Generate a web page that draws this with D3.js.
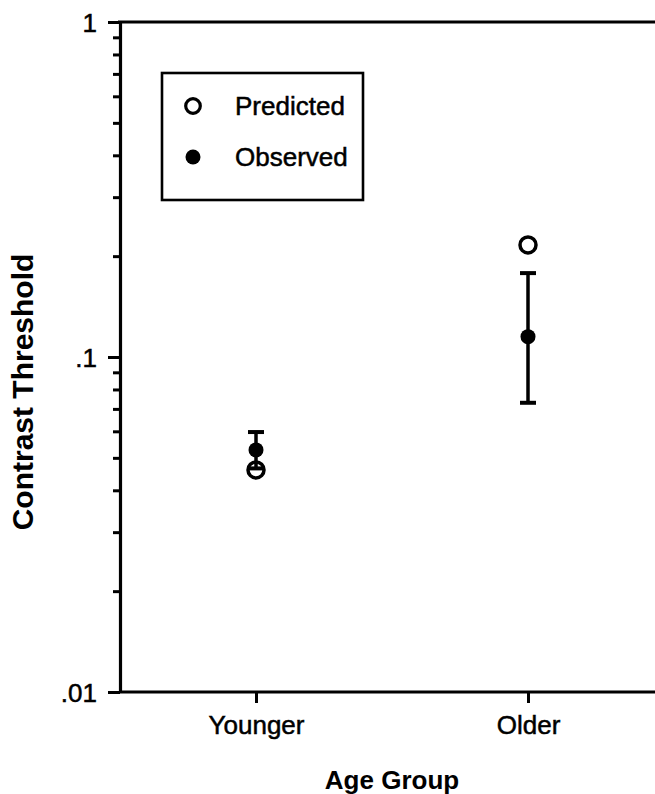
<!DOCTYPE html>
<html>
<head>
<meta charset="utf-8">
<script src="https://cdn.jsdelivr.net/npm/d3@7"></script>
<style>
  html, body { margin: 0; padding: 0; background: #fff; }
  svg { display: block; font-family: "Liberation Sans", Arial, Helvetica, sans-serif; }
  .lbl { stroke: #000; stroke-width: 0.5px; }
</style>
</head>
<body>
<div id="chart"></div>
<script>
// data
const categories = ["Younger", "Older"];
const predicted = [0.046, 0.216];
const observed = [0.0528, 0.115];
const errUpper = [0.0597, 0.178];
const errLower = [0.0465, 0.073];
const yTickLabels = {1: "1", 0.1: ".1", 0.01: ".01"};
const legendLabels = ["Predicted", "Observed"];

const W = 655, H = 794;

const svg = d3.select("#chart").append("svg")
  .attr("width", W)
  .attr("height", H);

// scales
const y = d3.scaleLog().domain([0.01, 1]).range([692, 22]);
const x = d3.scalePoint().domain(categories).range([120, 664]).padding(0.5);

const ink = "#000";

// y axis (log ticks, major ones are longer and labelled)
const isMajor = v => Math.abs(Math.log10(v) - Math.round(Math.log10(v))) < 1e-6;
const yAxis = svg.append("g")
  .attr("transform", "translate(120,0)")
  .call(d3.axisLeft(y)
    .tickValues(y.ticks())
    .tickFormat(v => isMajor(v) ? yTickLabels[+v.toPrecision(1)] : "")
    .tickSizeOuter(0));
yAxis.select(".domain").attr("stroke", ink).attr("stroke-width", 3.2);
yAxis.selectAll(".tick line")
  .attr("stroke", ink)
  .attr("stroke-width", 3)
  .attr("x2", d => isMajor(d) ? -12 : -7);
yAxis.selectAll(".tick text")
  .attr("class", "lbl")
  .attr("x", -23)
  .attr("dy", "0.36em")
  .attr("fill", ink)
  .style("font-size", "26px");

// x axis along the bottom, running off the right edge
const xAxis = svg.append("g")
  .attr("transform", `translate(0,${y(0.01)})`)
  .call(d3.axisBottom(x).tickSize(11).tickSizeOuter(0));
xAxis.select(".domain").attr("d", `M120,0H${W + 10}`)
  .attr("stroke", ink).attr("stroke-width", 3.2);
xAxis.selectAll(".tick line").attr("stroke", ink).attr("stroke-width", 3);
xAxis.selectAll(".tick text")
  .attr("class", "lbl")
  .attr("y", 24)
  .attr("dy", "0.71em")
  .attr("fill", ink)
  .style("font-size", "26px");

// top frame line
svg.append("line")
  .attr("x1", 118).attr("x2", W + 10)
  .attr("y1", y(1)).attr("y2", y(1))
  .attr("stroke", ink).attr("stroke-width", 3.2);

// axis titles
svg.append("text")
  .attr("transform", `translate(33,392) rotate(-90)`)
  .attr("text-anchor", "middle")
  .style("font-size", "30px")
  .style("font-weight", "bold")
  .text("Contrast Threshold");

svg.append("text")
  .attr("x", 392).attr("y", 789)
  .attr("text-anchor", "middle")
  .style("font-size", "26px")
  .style("font-weight", "bold")
  .text("Age Group");

// error bars
const eb = svg.append("g").selectAll("g")
  .data(categories)
  .join("g");
eb.append("line")
  .attr("x1", d => x(d)).attr("x2", d => x(d))
  .attr("y1", (d, i) => y(errUpper[i]))
  .attr("y2", (d, i) => y(errLower[i]))
  .attr("stroke", ink).attr("stroke-width", 3.5);
eb.append("line")
  .attr("x1", d => x(d) - 8).attr("x2", d => x(d) + 8)
  .attr("y1", (d, i) => y(errUpper[i]))
  .attr("y2", (d, i) => y(errUpper[i]))
  .attr("stroke", ink).attr("stroke-width", 4);
eb.append("line")
  .attr("x1", d => x(d) - 8).attr("x2", d => x(d) + 8)
  .attr("y1", (d, i) => y(errLower[i]))
  .attr("y2", (d, i) => y(errLower[i]))
  .attr("stroke", ink).attr("stroke-width", 4);

// observed (filled)
svg.append("g").selectAll("circle")
  .data(categories)
  .join("circle")
  .attr("cx", d => x(d))
  .attr("cy", (d, i) => y(observed[i]))
  .attr("r", 7.5)
  .attr("fill", ink);

// predicted (open)
svg.append("g").selectAll("circle")
  .data(categories)
  .join("circle")
  .attr("cx", d => x(d))
  .attr("cy", (d, i) => y(predicted[i]))
  .attr("r", 8)
  .attr("fill", "none")
  .attr("stroke", ink)
  .attr("stroke-width", 3.5);

// legend
const lg = svg.append("g");
lg.append("rect")
  .attr("x", 162).attr("y", 73)
  .attr("width", 201).attr("height", 127)
  .attr("fill", "none")
  .attr("stroke", ink)
  .attr("stroke-width", 2.6);

const rows = lg.selectAll("g.row")
  .data(legendLabels)
  .join("g")
  .attr("class", "row")
  .attr("transform", (d, i) => `translate(0,${106 + i * 51})`);
rows.append("circle")
  .attr("cx", 193).attr("cy", 0)
  .attr("r", (d, i) => i === 0 ? 7.3 : 7.5)
  .attr("fill", (d, i) => i === 0 ? "none" : ink)
  .attr("stroke", (d, i) => i === 0 ? ink : "none")
  .attr("stroke-width", 3.2);
rows.append("text")
  .attr("class", "lbl")
  .attr("x", 235).attr("y", 9)
  .style("font-size", "26px")
  .text(d => d);
</script>
</body>
</html>
